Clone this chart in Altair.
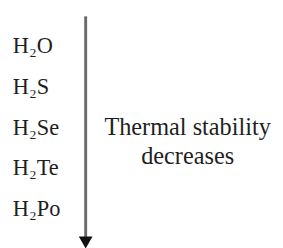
import altair as alt
import pandas as pd

compounds = ["H₂O", "H₂S", "H₂Se", "H₂Te", "H₂Po"]
order = [0, 1, 2, 3, 4]
trend_lines = ["Thermal stability", "decreases"]

SERIF = "Liberation Serif"

df = pd.DataFrame({"label": compounds, "i": order})
yscale = alt.Scale(domain=[4.689, -1.009])

labels = alt.Chart(df).mark_text(
    align="left", baseline="alphabetic", font=SERIF, fontSize=23, color="#1e1e1e"
).encode(
    x=alt.value(5),
    y=alt.Y("i:Q", scale=yscale, axis=None),
    text="label:N",
)

arrow_df = pd.DataFrame({"y0": [-0.89], "y1": [4.62], "tip": [4.64]})
shaft = alt.Chart(arrow_df).mark_rule(color="#6a6a6a", strokeWidth=3).encode(
    x=alt.value(80), y=alt.Y("y0:Q", scale=yscale, axis=None), y2="y1:Q"
)
head = alt.Chart(arrow_df).mark_point(
    shape="triangle-down", filled=True, color="#111", size=200, opacity=1
).encode(x=alt.value(80), y=alt.Y("tip:Q", scale=yscale, axis=None))

note = alt.Chart(pd.DataFrame({"t": [trend_lines], "y": [2.006]})).mark_text(
    align="center", baseline="alphabetic", font=SERIF, fontSize=25,
    color="#1e1e1e", lineHeight=30
).encode(
    x=alt.value(185), y=alt.Y("y:Q", scale=yscale, axis=None), text="t"
)

chart = alt.layer(labels, shaft, head, note).properties(
    width=275, height=240, autosize="none", padding=0
).configure_view(stroke=None)

chart.save("out.html", embed_options={"renderer": "svg", "actions": False})
